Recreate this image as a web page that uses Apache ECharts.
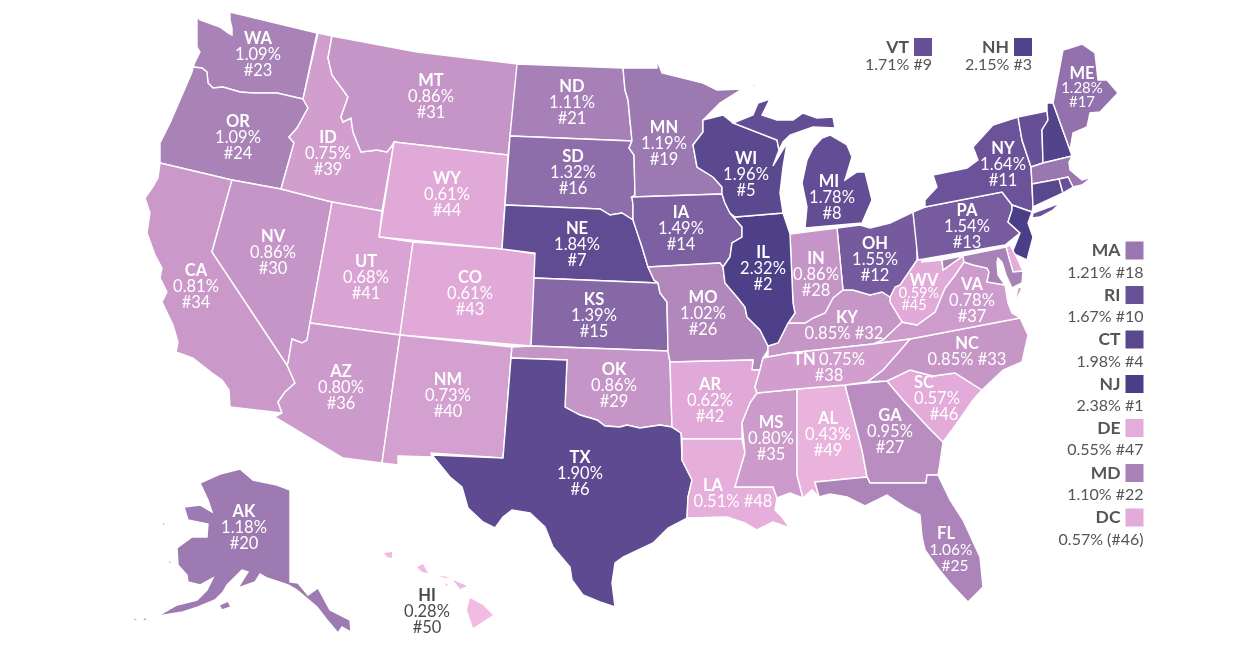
<!DOCTYPE html>
<html>
<head>
<meta charset="utf-8">
<style>html,body{margin:0;padding:0;background:#fff}#c{width:1250px;height:650px}</style>
<script src="https://cdn.jsdelivr.net/npm/echarts@6/dist/echarts.min.js"></script>
</head>
<body>
<div id="c"></div>
<script>
// ---- data ----
const mapStates = ['WA','OR','CA','NV','ID','MT','WY','UT','CO','AZ','NM','ND','SD','NE','KS','OK','TX','MN','IA','MO','AR','LA','MS','AL','GA','FL','SC','NC','VA','WV','KY','TN','OH','IN','IL','WI','MI','PA','NY','ME','AK','HI'];
const mapShares = [1.09,1.09,0.81,0.86,0.75,0.86,0.61,0.68,0.61,0.80,0.73,1.11,1.32,1.84,1.39,0.86,1.90,1.19,1.49,1.02,0.62,0.51,0.80,0.43,0.95,1.06,0.57,0.85,0.78,0.59,0.85,0.75,1.55,0.86,2.32,1.96,1.78,1.54,1.64,1.28,1.18,0.28];
const mapRanks  = [23,24,34,30,39,31,44,41,43,36,40,21,16,7,15,29,6,19,14,26,42,48,35,49,27,25,46,33,37,45,32,38,12,28,2,5,8,13,11,17,20,50];
const smallStates = ['VT','NH','CT','RI','MA','NJ','DE','MD'];
const smallShares = [1.71,2.15,1.98,1.67,1.21,2.38,0.55,1.10];
const calloutStates = ['VT','NH','MA','RI','CT','NJ','DE','MD','DC'];
const calloutShares = [1.71,2.15,1.21,1.67,1.98,2.38,0.55,1.10,0.57];
const calloutTexts  = ['1.71% #9','2.15% #3','1.21% #18','1.67% #10','1.98% #4','2.38% #1','0.55% #47','1.10% #22','0.57% (#46)'];

// ---- palette and layout ----
const ramp = ['#F2BBE2','#DFA8D7','#B78BBE','#8C6DAA','#685097','#56478C','#4B3E88'];
const calloutAnchors = [[923,47],[1023,47],[1134.5,250.5],[1134.5,295],[1134.5,339.5],[1134.5,384],[1134.5,428],[1134.5,473],[1134.5,517.5]];
const labelAnchors = {WA:[258,55],OR:[238,138],CA:[196,287],NV:[273,253],ID:[328,154],MT:[431,97],WY:[447,195],UT:[366,278],CO:[470,294],AZ:[341,388],NM:[448,396],ND:[572,103],SD:[573,173],NE:[577,245],KS:[594,316],OK:[614,386],TX:[580,474],MN:[664,144],IA:[681,229],MO:[703,314],AR:[710,401],LA:[733,494],MS:[771,439],AL:[828,435],GA:[890,432],FL:[951,550],SC:[937,399],NC:[967,352],VA:[972,301],WV:[919,293],KY:[844,326],TN:[829,368],OH:[875,260],IN:[816,275],IL:[763,269],WI:[746,175],MI:[832,198],PA:[967,227],NY:[1003,165],ME:[1082,88],AK:[244,528],HI:[427,612]};

// ---- state outlines (map geometry) ----
const outlines = {
WA:[[[197,17],[200,20],[220,27],[228,33],[232,35],[232,28],[230,20],[230,12],[317,33],[303,99],[277,93],[253,93],[240,92],[223,87],[213,88],[208,83],[207,72],[202,68],[193,67],[195,62],[200,52],[197,47],[197,30]]],
OR:[[[193,67],[202,68],[207,72],[208,83],[213,88],[223,87],[240,92],[253,93],[277,93],[303,99],[308,108],[297,128],[289,137],[294,143],[281,189],[232,180],[160,163],[160,143],[170,123],[183,93],[192,72]]],
CA:[[[160,163],[232,180],[212,252],[287,365],[295,383],[285,392],[278,402],[282,413],[230,407],[229,390],[222,380],[212,373],[193,358],[176,352],[178,342],[173,325],[162,302],[167,292],[160,278],[162,268],[155,255],[147,233],[150,213],[145,198],[152,188],[158,178]]],
NV:[[[232,180],[281,189],[332,202],[310,323],[307,340],[302,343],[292,339],[288,363],[287,365],[212,252]]],
ID:[[[318,33],[332,36],[328,58],[332,75],[343,90],[348,97],[341,117],[343,122],[351,118],[353,132],[361,152],[377,150],[387,152],[391,147],[394,142],[382,211],[332,202],[281,189],[294,143],[289,137],[297,128],[308,108],[303,99]]],
MT:[[[332,36],[417,52],[518,64],[508,155],[394,142],[391,147],[387,152],[377,150],[361,152],[353,132],[351,118],[343,122],[341,117],[348,97],[343,90],[332,75],[328,58]]],
WY:[[[394,142],[508,155],[502,249],[379,237]]],
UT:[[[332,202],[382,211],[379,237],[413,242],[400,335],[310,323]]],
CO:[[[413,242],[502,249],[536,254],[531,346],[400,335]]],
AZ:[[[310,323],[400,335],[382,463],[343,458],[275,417],[282,413],[278,402],[285,392],[295,383],[287,365],[288,363],[292,339],[302,343],[307,340]]],
NM:[[[400,335],[512,347],[511,358],[503,458],[431,453],[432,457],[398,456],[398,465],[382,463]]],
ND:[[[517,64],[623,68],[625,90],[628,100],[632,141],[510,136]]],
SD:[[[510,136],[632,141],[629,148],[634,155],[635,195],[632,197],[633,205],[633,220],[622,213],[610,215],[600,209],[505,205]]],
NE:[[[505,205],[600,209],[610,215],[622,213],[633,220],[642,247],[648,267],[654,280],[658,283],[534,278],[535,253],[502,249]]],
KS:[[[534,278],[658,283],[660,293],[667,302],[668,351],[531,346]]],
OK:[[[512,347],[531,346],[668,351],[670,362],[672,427],[660,425],[640,428],[627,425],[620,427],[605,426],[597,420],[580,415],[565,407],[567,360],[511,358]]],
TX:[[[511,358],[567,360],[565,407],[580,415],[597,420],[605,426],[620,427],[627,425],[640,428],[660,425],[672,427],[681,433],[682,460],[692,480],[688,497],[687,518],[668,528],[653,543],[623,557],[615,563],[612,583],[615,607],[600,602],[583,595],[572,580],[570,567],[553,547],[545,527],[530,513],[512,510],[503,517],[495,528],[483,522],[468,508],[462,487],[450,477],[432,455],[503,458]]],
MN:[[[623,68],[657,68],[657,60],[662,73],[683,78],[703,83],[717,90],[742,89],[720,103],[703,120],[703,132],[693,145],[697,167],[713,177],[722,187],[722,194],[632,197],[635,195],[634,155],[629,148],[632,141],[628,100],[625,90]]],
IA:[[[632,197],[722,194],[725,203],[730,213],[742,227],[742,237],[732,243],[730,257],[723,267],[720,263],[648,267],[642,247],[633,220],[633,205]]],
MO:[[[648,267],[720,263],[723,267],[725,283],[737,297],[745,307],[747,317],[760,330],[768,346],[768,350],[763,358],[760,370],[752,370],[753,360],[670,362],[668,351],[667,302],[660,293],[658,283],[654,280]]],
AR:[[[670,362],[753,360],[752,370],[760,370],[755,387],[757,393],[750,403],[742,423],[742,439],[682,439],[681,433],[672,427]]],
LA:[[[682,439],[742,439],[745,453],[735,487],[773,487],[777,498],[775,510],[782,517],[790,528],[773,522],[757,530],[745,523],[727,517],[687,518],[688,497],[692,480],[682,460]]],
MS:[[[757,393],[797,389],[797,475],[803,498],[790,493],[777,498],[773,487],[735,487],[745,453],[742,423],[750,403]]],
AL:[[[797,389],[845,385],[862,450],[867,477],[815,482],[819,497],[812,490],[803,498],[797,475]]],
GA:[[[845,385],[887,381],[903,400],[928,427],[943,442],[940,463],[938,475],[927,475],[926,483],[870,483],[867,477],[862,450]]],
FL:[[[815,482],[867,477],[870,483],[926,483],[927,475],[938,475],[950,500],[963,520],[980,557],[983,587],[968,602],[950,583],[937,567],[925,550],[922,537],[920,515],[905,507],[887,495],[865,506],[847,497],[830,494],[819,497]]],
SC:[[[887,381],[910,370],[933,376],[955,373],[982,390],[973,400],[962,416],[952,430],[943,442],[928,427],[903,400]]],
NC:[[[910,339],[1020,318],[1028,335],[1022,362],[1003,370],[982,390],[955,373],[933,376],[910,370],[887,381],[867,382],[883,370],[898,353]]],
VA:[[[964,262],[973,265],[987,268],[989,272],[987,282],[1005,285],[1008,303],[1012,313],[1020,318],[910,339],[873,344],[883,340],[902,322],[917,325],[935,312],[945,288],[953,278]],[[1018,287],[1022,288],[1015,303]]],
WV:[[[917,243],[922,262],[942,260],[943,270],[963,256],[964,262],[953,278],[945,288],[935,312],[917,325],[902,322],[890,302],[890,297],[895,287],[900,285],[917,260]]],
KY:[[[788,323],[805,323],[813,318],[825,313],[833,298],[843,290],[853,290],[870,295],[882,292],[890,297],[890,302],[902,322],[883,340],[873,344],[790,353],[768,357],[768,346],[778,343],[782,335]]],
TN:[[[768,357],[790,353],[873,344],[910,339],[898,353],[883,370],[867,382],[845,385],[797,389],[757,393],[755,387],[760,370],[763,358]]],
OH:[[[837,228],[860,225],[870,228],[890,223],[913,212],[917,243],[917,260],[900,285],[895,287],[890,297],[882,292],[870,295],[853,290],[843,290]]],
IN:[[[790,234],[837,228],[843,290],[833,298],[825,313],[813,318],[805,323],[788,323],[795,313],[793,303]]],
IL:[[[735,217],[783,213],[790,234],[793,303],[795,313],[788,323],[782,335],[778,343],[768,346],[760,330],[747,317],[745,307],[737,297],[725,283],[723,267],[730,257],[732,243],[742,237],[742,227],[730,213]]],
WI:[[[703,120],[723,115],[733,123],[777,140],[779,150],[773,166],[787,143],[783,167],[780,193],[783,213],[735,217],[730,213],[725,203],[722,194],[722,187],[713,177],[697,167],[693,145],[703,132]]],
MI:[[[733,123],[753,115],[758,103],[770,99],[762,115],[777,120],[793,120],[803,113],[817,118],[833,117],[835,128],[813,127],[790,135],[783,142],[779,150],[777,140]],[[805,228],[862,223],[872,200],[865,172],[857,172],[845,180],[852,157],[847,145],[830,135],[822,138],[813,148],[807,160],[802,183],[807,207]],[[746,88],[757,83],[755,86]]],
PA:[[[913,212],[925,207],[1002,192],[1012,205],[1012,210],[1008,222],[1020,233],[1005,245],[918,260]]],
NY:[[[925,207],[925,200],[937,187],[933,175],[967,168],[978,160],[973,147],[993,125],[1018,117],[1022,140],[1031,167],[1032,184],[1033,207],[1032,212],[1012,205],[1002,192]],[[1032,218],[1033,213],[1060,203],[1053,210],[1040,217]]],
VT:[[[1018,117],[1047,111],[1048,120],[1042,130],[1043,163],[1031,167],[1022,140]]],
NH:[[[1047,103],[1053,103],[1070,150],[1072,156],[1043,163],[1042,130],[1048,120],[1047,111]]],
ME:[[[1053,103],[1063,50],[1070,48],[1082,44],[1095,53],[1098,80],[1107,80],[1118,93],[1100,112],[1090,113],[1087,127],[1073,133],[1070,150]]],
MA:[[[1031,167],[1043,163],[1072,156],[1069,162],[1070,170],[1082,180],[1092,177],[1082,185],[1073,187],[1068,177],[1059,179],[1032,184]]],
CT:[[[1032,184],[1059,179],[1063,193],[1033,207]]],
RI:[[[1059,179],[1068,177],[1073,187],[1063,193]]],
NJ:[[[1012,205],[1032,212],[1028,223],[1033,237],[1027,260],[1012,253],[1020,233],[1008,222],[1012,210]]],
DE:[[[1006,247],[1009,258],[1013,272],[1023,271],[1017,258],[1010,245]]],
MD:[[[942,260],[1006,247],[1009,258],[1013,272],[1023,271],[1022,283],[1012,288],[1006,275],[1002,262],[998,258],[997,262],[998,275],[1005,285],[987,282],[989,272],[987,268],[973,265],[964,262],[963,256],[943,270]]],
AK:[[[200,483],[220,474],[240,469],[253,480],[277,485],[290,490],[290,582],[298,583],[308,595],[318,588],[330,610],[350,620],[351,632],[342,627],[338,633],[327,620],[317,607],[297,590],[288,585],[267,578],[260,574],[255,582],[238,588],[248,572],[242,570],[227,585],[223,592],[215,600],[198,607],[183,612],[158,616],[177,605],[197,600],[207,590],[213,578],[200,585],[188,582],[187,575],[178,565],[177,548],[192,537],[207,537],[208,524],[188,520],[184,507],[200,505],[212,512],[208,500]],[[219,605],[228,601],[231,607],[222,610]],[[160,519],[168,527],[163,525]],[[165,559],[172,562],[170,564]],[[130,620],[137,618],[137,621]],[[142,620],[146,617],[147,621]]],
HI:[[[470,598],[483,605],[493,615],[473,628],[467,610]],[[453,580],[467,586],[460,589]],[[417,567],[423,564],[428,573],[422,572]],[[384,553],[392,552],[392,558],[387,557]],[[439,576],[450,577],[445,578]],[[445,583],[448,585],[446,586]]]
};

// per-state tweaks of the three-line label
const shifts = {
  LA:{b:[0,40,0,0]}, FL:{b:[0,10,0,0], r:[0,0,0,8]}, SC:{b:[0,26,0,0], r:[0,0,0,14]},
  WV:{b:[0,0,0,10], r:[0,10,0,0]}, KY:{b:[0,0,0,6]}, MI:{b:[0,6,0,0]}
};
const sizes = {WV:14.5, ME:15, FL:15.5};

const geoJson = {type:'FeatureCollection', features:Object.keys(outlines).map(function(n){
  const props = {name:n};
  if(labelAnchors[n]) props.cp = labelAnchors[n];
  return {type:'Feature', properties:props, geometry:{type:'MultiPolygon', coordinates:outlines[n].map(function(r){return [r];})}};
})};
echarts.registerMap('us', geoJson);

const fam = 'Lato, "Open Sans", sans-serif';
function richFor(st, dark){
  const s = sizes[st] || 16.5, col = dark ? '#4a4a4a' : '#fff', sh = shifts[st] || {};
  const lh = st==='WV' ? 12.5 : st==='ME' ? 14 : 16;
  return {
    b:{fontFamily:fam,fontWeight:'bold',fontSize:16.5,lineHeight:lh,color:col,padding:sh.b||0},
    v:{fontFamily:fam,fontSize:s,lineHeight:lh,color:col},
    r:{fontFamily:fam,fontSize:s,lineHeight:lh,color:col,padding:sh.r||0}
  };
}
const inline = {LA:1,KY:1,NC:1};
const mapData = mapStates.map(function(st,i){
  const pct = mapShares[i].toFixed(2)+'%', rk = '#'+mapRanks[i];
  let txt;
  if(inline[st]) txt = '{b|'+st+'}\n{v|'+pct+' '+rk+'}';
  else if(st==='TN') txt = '{b|TN} {v|'+pct+'}\n{r|'+rk+'}';
  else txt = '{b|'+st+'}\n{v|'+pct+'}\n{r|'+rk+'}';
  return {name:st, value:mapShares[i], label:{show:true, formatter:txt, rich:richFor(st, st==='HI')},
    itemStyle: st==='HI' ? {borderWidth:0} : undefined};
}).concat(smallStates.map(function(st,i){
  return {name:st, value:smallShares[i], label:{show:false}};
}));
const topRow = {VT:1,NH:1};
const calloutData = calloutStates.map(function(st,i){
  const item = {name:st, value:[calloutAnchors[i][0],calloutAnchors[i][1],calloutShares[i]], txt:calloutTexts[i]};
  if(topRow[st]){
    item.label = {rich:{
      b:{fontFamily:fam,fontWeight:'bold',fontSize:17.5,lineHeight:18,color:'#555',padding:[0,23,0,0]},
      v:{fontFamily:fam,fontSize:16,lineHeight:18,color:'#555'}
    }};
  }
  return item;
});
const identity = {project:function(p){return [p[0],p[1]];}, unproject:function(p){return [p[0],p[1]];}};

const chart = echarts.init(document.getElementById('c'), null, {renderer:'canvas'});
chart.setOption({
  animation:false,
  backgroundColor:'#fff',
  visualMap:[
    {show:false,type:'continuous',seriesIndex:0,dimension:0,min:0.28,max:2.38,inRange:{color:ramp}},
    {show:false,type:'continuous',seriesIndex:1,dimension:2,min:0.28,max:2.38,inRange:{color:ramp}}
  ],
  geo:{map:'us',projection:identity,boundingCoords:[[0,0],[1250,650]],left:0,top:0,width:1250,height:650,silent:true,z:0,
    itemStyle:{areaColor:'rgba(0,0,0,0)',borderColor:'rgba(0,0,0,0)',borderWidth:0},label:{show:false},emphasis:{disabled:true}},
  series:[
    {type:'map',map:'us',projection:identity,boundingCoords:[[0,0],[1250,650]],left:0,top:0,width:1250,height:650,silent:true,z:2,
     selectedMode:false,
     itemStyle:{borderColor:'#fff',borderWidth:1.4},
     label:{show:false},emphasis:{disabled:true},
     data:mapData},
    {type:'scatter',coordinateSystem:'geo',geoIndex:0,symbol:'rect',symbolSize:18,silent:true,z:3,
     itemStyle:{opacity:1},
     label:{show:true,position:[18,0],align:'right',verticalAlign:'top',
       formatter:function(p){return '{b|'+p.name+'}\n{v|'+p.data.txt+'}';},
       rich:{
         b:{fontFamily:fam,fontWeight:'bold',fontSize:17.5,lineHeight:18,color:'#555',padding:[0,23,0,0]},
         v:{fontFamily:fam,fontSize:16,lineHeight:26,color:'#555'}
       }},
     data:calloutData}
  ]
});
</script>
</body>
</html>
